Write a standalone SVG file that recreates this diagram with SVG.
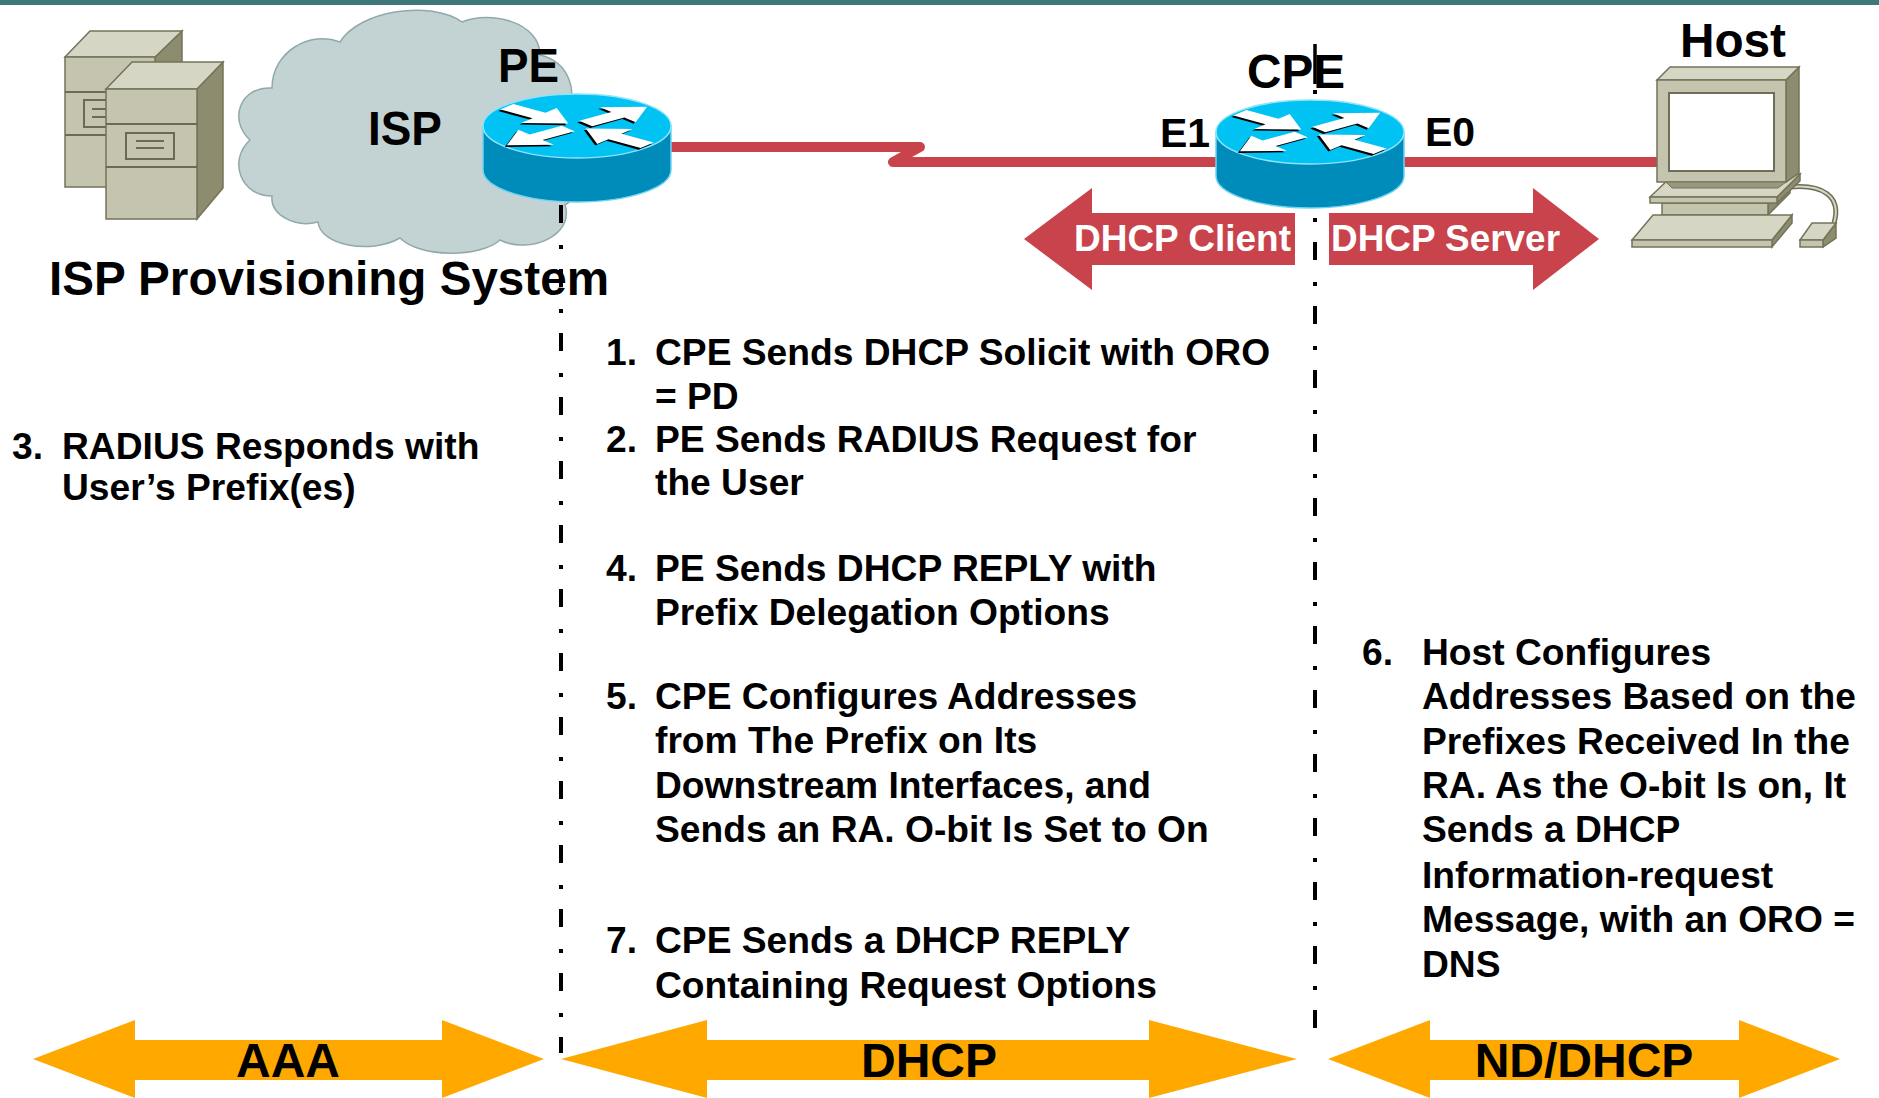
<svg xmlns="http://www.w3.org/2000/svg" xmlns:xlink="http://www.w3.org/1999/xlink" width="1879" height="1098" viewBox="0 0 1879 1098">
  <style>
    .lbl { font-family: "Liberation Sans", Arial, sans-serif; font-weight: bold; fill: #000; }
    .big { font-size: 48px; }
    .port { font-size: 41px; }
    .body { font-size: 37.2px; }
    .wlbl { font-family: "Liberation Sans", Arial, sans-serif; font-weight: bold; font-size: 37px; fill: #fff; }
    .band { font-family: "Liberation Sans", Arial, sans-serif; font-weight: bold; font-size: 48px; fill: #000; }
    .dash { stroke: #000; stroke-width: 4; fill: none; stroke-dasharray: 18 22 4 20; }
    .link { stroke: #c8434b; stroke-width: 10; fill: none; stroke-linejoin: round; stroke-linecap: round; }
    .redarrow { fill: #c8434b; }
    .band-arrow { fill: #fea800; }
    .srv-front { fill: #c5c4ae; stroke: #74735a; stroke-width: 1.5; }
    .srv-top { fill: #d6d6c4; stroke: #74735a; stroke-width: 1.5; }
    .srv-side { fill: #8e8c6e; stroke: #74735a; stroke-width: 1.5; }
    .srv-line { stroke: #6b6a52; stroke-width: 2; fill: none; }
  </style>
  <defs>
    <polygon id="arrOut" points="0.12,-0.11 0.56,-0.11 0.56,-0.3 0.96,0 0.56,0.3 0.56,0.11 0.12,0.11"/>
    <polygon id="arrIn" points="0.96,-0.11 0.52,-0.11 0.52,-0.3 0.12,0 0.52,0.3 0.52,0.11 0.96,0.11"/>
    <g id="arrowSet">
      <use xlink:href="#arrIn" transform="rotate(219)"/>
      <use xlink:href="#arrOut" transform="rotate(-39)"/>
      <use xlink:href="#arrOut" transform="rotate(141)"/>
      <use xlink:href="#arrIn" transform="rotate(39)"/>
    </g>
    <!-- Cisco-style router: origin at the centre of the top face -->
    <g id="router">
      <path d="M -94 0 V 44 A 94 32 0 0 0 94 44 V 0 Z" fill="#008cba" stroke="#6fd3f2" stroke-width="1.5"/>
      <ellipse cx="0" cy="0" rx="94" ry="32" fill="#00c2f3" stroke="#8fe3fa" stroke-width="1.5"/>
      <g transform="translate(-2 1.6) scale(94 32)" fill="#000">
        <use xlink:href="#arrowSet"/>
      </g>
      <g transform="scale(94 32)" fill="#fff">
        <use xlink:href="#arrowSet"/>
      </g>
    </g>
  </defs>

  <rect width="1879" height="1098" fill="#fff"/>
  <rect x="0" y="0" width="1879" height="5" fill="#3e7878"/>

  <!-- ISP cloud -->
  <g id="isp-cloud">
    <path d="M 272,196 C 240,196 228,160 250,140 C 228,120 240,86 272,88 C 272,52 310,30 340,42 C 360,10 430,0 462,22 C 490,10 540,22 540,55 C 570,62 580,95 565,118 C 590,140 590,190 565,205 C 575,235 530,255 500,240 C 480,258 420,258 400,238 C 370,255 320,245 318,222 C 295,228 270,215 272,196 Z" fill="#c3d3d3" stroke="#8fa9a9" stroke-width="1.5"/>
    <text class="lbl big" x="368" y="145" textLength="74" lengthAdjust="spacingAndGlyphs">ISP</text>
  </g>

  <!-- Provisioning servers -->
  <g id="provisioning-servers">
    <polygon class="srv-side" points="155,57 182,31 182,161 155,187"/>
    <polygon class="srv-top" points="65,57 90,31 182,31 155,57"/>
    <rect class="srv-front" x="65" y="57" width="90" height="130"/>
    <line class="srv-line" x1="65" y1="92" x2="155" y2="92"/>
    <line class="srv-line" x1="65" y1="135" x2="155" y2="135"/>
    <rect x="84" y="100" width="40" height="27" fill="none" stroke="#6b6a52" stroke-width="2"/>
    <line class="srv-line" x1="92" y1="109" x2="118" y2="109"/>
    <line class="srv-line" x1="92" y1="117" x2="118" y2="117"/>

    <polygon class="srv-side" points="197,89 223,62 223,188 197,219"/>
    <polygon class="srv-top" points="106,89 132,62 223,62 197,89"/>
    <rect class="srv-front" x="106" y="89" width="91" height="130"/>
    <line class="srv-line" x1="106" y1="124" x2="197" y2="124"/>
    <line class="srv-line" x1="106" y1="167" x2="197" y2="167"/>
    <rect x="126" y="133" width="48" height="26" fill="none" stroke="#6b6a52" stroke-width="2"/>
    <line class="srv-line" x1="136" y1="141" x2="164" y2="141"/>
    <line class="srv-line" x1="136" y1="148" x2="164" y2="148"/>
  </g>
  <text class="lbl big" x="49" y="295" textLength="560" lengthAdjust="spacingAndGlyphs">ISP Provisioning System</text>

  <!-- Connectors: WAN link, LAN link, boundary lines -->
  <g id="connectors">
    <path class="link" d="M 671 147 H 920 L 893 162 H 1216"/>
    <path class="link" d="M 1404 162 H 1660" stroke-linecap="butt"/>
    <line class="dash" x1="561" y1="205" x2="561" y2="1053"/>
    <line x1="1315" y1="44" x2="1315" y2="84" stroke="#000" stroke-width="3"/>
    <line class="dash" x1="1315" y1="88" x2="1315" y2="1036" stroke-dashoffset="38"/>
  </g>

  <!-- PE router -->
  <g id="pe-router">
    <use xlink:href="#router" transform="translate(577 126)"/>
    <text class="lbl big" x="498" y="82" textLength="61" lengthAdjust="spacingAndGlyphs">PE</text>
  </g>

  <!-- CPE router -->
  <g id="cpe-router">
    <use xlink:href="#router" transform="translate(1310 132)"/>
    <text class="lbl big" x="1247" y="88" textLength="98" lengthAdjust="spacingAndGlyphs">CPE</text>
    <line x1="1315" y1="44" x2="1315" y2="84" stroke="#000" stroke-width="3"/>
    <text class="lbl port" x="1160" y="147">E1</text>
    <text class="lbl port" x="1425" y="146">E0</text>
  </g>

  <!-- DHCP role arrows at the CPE -->
  <g id="dhcp-client">
    <polygon class="redarrow" points="1024,239 1092,188 1092,213 1295,213 1295,265 1092,265 1092,290"/>
    <text class="wlbl" x="1074" y="251" textLength="217" lengthAdjust="spacingAndGlyphs">DHCP Client</text>
  </g>
  <g id="dhcp-server">
    <polygon class="redarrow" points="1329,213 1533,213 1533,188 1599,239 1533,290 1533,265 1329,265"/>
    <text class="wlbl" x="1331" y="251" textLength="229" lengthAdjust="spacingAndGlyphs">DHCP Server</text>
  </g>

  <!-- Host PC -->
  <g id="host">
    <text class="lbl big" x="1680" y="57" textLength="106" lengthAdjust="spacingAndGlyphs">Host</text>
    <path d="M 1790 187 C 1822 184 1842 196 1834 223" fill="none" stroke="#6e6d55" stroke-width="5"/>
    <path d="M 1790 187 C 1822 184 1842 196 1834 223" fill="none" stroke="#d6d6c4" stroke-width="2"/>
    <!-- pedestal -->
    <polygon class="srv-side" points="1768,203 1790,180 1790,193 1768,215"/>
    <rect class="srv-front" x="1662" y="203" width="106" height="12" fill="#b4b39a"/>
    <!-- base slab -->
    <polygon class="srv-side" points="1777,197 1800,174 1800,181 1777,203"/>
    <polygon class="srv-top" points="1650,197 1672,176 1800,174 1777,197"/>
    <rect class="srv-front" x="1650" y="197" width="127" height="6"/>
    <!-- monitor -->
    <polygon class="srv-side" points="1786,80 1799,67 1799,173 1786,182"/>
    <polygon class="srv-top" points="1657,80 1670,67 1799,67 1786,80"/>
    <rect class="srv-front" x="1657" y="80" width="129" height="102"/>
    <polygon points="1666,182 1786,182 1778,188 1672,188" fill="#9a987c" stroke="#74735a" stroke-width="1"/>
    <rect x="1669" y="93" width="105" height="78" fill="#fff" stroke="#6e6d55" stroke-width="2"/>
    <!-- keyboard -->
    <polygon class="srv-side" points="1772,240 1792,215 1792,223 1772,247"/>
    <polygon class="srv-top" points="1632,240 1653,215 1792,215 1772,240"/>
    <rect class="srv-front" x="1632" y="240" width="140" height="7"/>
    <!-- mouse -->
    <polygon class="srv-side" points="1823,240 1836,223 1836,238 1823,247"/>
    <polygon class="srv-top" points="1800,240 1812,223 1836,223 1823,240"/>
    <rect class="srv-front" x="1800" y="240" width="23" height="7"/>
  </g>

  <!-- Step descriptions -->
  <g id="step-3">
    <text class="lbl body" x="12" y="459">3.</text>
    <text class="lbl body" x="62" y="459">RADIUS Responds with</text>
    <text class="lbl body" x="62" y="500">User’s Prefix(es)</text>
  </g>
  <g id="steps-dhcp">
    <text class="lbl body" x="606" y="365">1.</text>
    <text class="lbl body" x="655" y="365">CPE Sends DHCP Solicit with ORO</text>
    <text class="lbl body" x="655" y="409">= PD</text>
    <text class="lbl body" x="606" y="452">2.</text>
    <text class="lbl body" x="655" y="452">PE Sends RADIUS Request for</text>
    <text class="lbl body" x="655" y="495">the User</text>
    <text class="lbl body" x="606" y="581">4.</text>
    <text class="lbl body" x="655" y="581">PE Sends DHCP REPLY with</text>
    <text class="lbl body" x="655" y="625">Prefix Delegation Options</text>
    <text class="lbl body" x="606" y="709">5.</text>
    <text class="lbl body" x="655" y="709">CPE Configures Addresses</text>
    <text class="lbl body" x="655" y="753">from The Prefix on Its</text>
    <text class="lbl body" x="655" y="798">Downstream Interfaces, and</text>
    <text class="lbl body" x="655" y="842">Sends an RA. O-bit Is Set to On</text>
    <text class="lbl body" x="606" y="953">7.</text>
    <text class="lbl body" x="655" y="953">CPE Sends a DHCP REPLY</text>
    <text class="lbl body" x="655" y="998">Containing Request Options</text>
  </g>
  <g id="step-6">
    <text class="lbl body" x="1362" y="665">6.</text>
    <text class="lbl body" x="1422" y="665">Host Configures</text>
    <text class="lbl body" x="1422" y="709">Addresses Based on the</text>
    <text class="lbl body" x="1422" y="754">Prefixes Received In the</text>
    <text class="lbl body" x="1422" y="798">RA. As the O-bit Is on, It</text>
    <text class="lbl body" x="1422" y="842">Sends a DHCP</text>
    <text class="lbl body" x="1422" y="888">Information-request</text>
    <text class="lbl body" x="1422" y="932">Message, with an ORO =</text>
    <text class="lbl body" x="1422" y="977">DNS</text>
  </g>

  <!-- Protocol bands -->
  <g id="band-aaa">
    <polygon class="band-arrow" points="33,1059 135,1020 135,1040 442,1040 442,1020 544,1059 442,1098 442,1080 135,1080 135,1098"/>
    <text class="band" x="288" y="1077" text-anchor="middle">AAA</text>
  </g>
  <g id="band-dhcp">
    <polygon class="band-arrow" points="561,1059 707,1020 707,1040 1149,1040 1149,1020 1297,1059 1149,1098 1149,1080 707,1080 707,1098"/>
    <text class="band" x="929" y="1077" text-anchor="middle">DHCP</text>
  </g>
  <g id="band-nd-dhcp">
    <polygon class="band-arrow" points="1328,1059 1430,1020 1430,1040 1739,1040 1739,1020 1840,1059 1739,1098 1739,1080 1430,1080 1430,1098"/>
    <text class="band" x="1584" y="1077" text-anchor="middle">ND/DHCP</text>
  </g>
</svg>
